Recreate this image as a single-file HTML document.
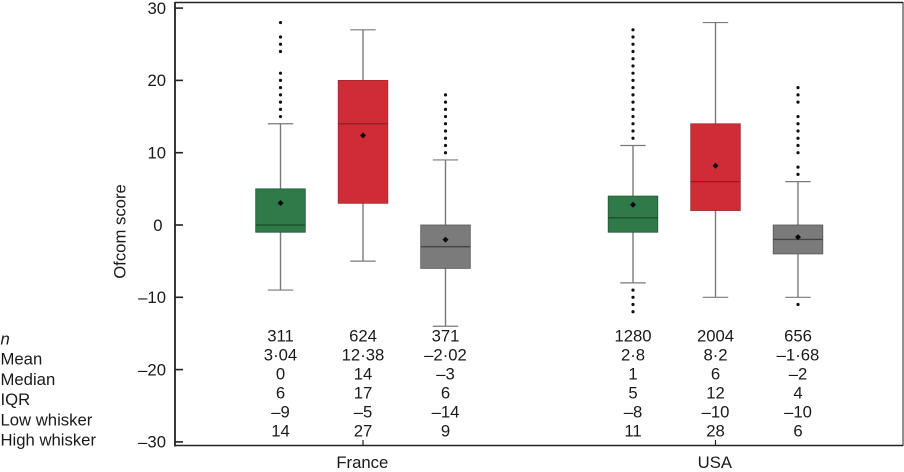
<!DOCTYPE html>
<html lang="en">
<head>
<meta charset="utf-8">
<title>Ofcom score box plot</title>
<style>
html,body{margin:0;padding:0;background:#fff;width:904px;height:472px;overflow:hidden}
svg{display:block;font-family:"Liberation Sans",Arial,sans-serif;fill:#1a1a1a}
text{font-size:16.7px}
</style>
</head>
<body>
<svg id="chart" width="904" height="472" viewBox="0 0 904 472" xmlns="http://www.w3.org/2000/svg"></svg>
<script>
const groupLabels = ['France', 'USA'];
const boxGroups = [0, 0, 0, 1, 1, 1];
const boxColors = ['green', 'red', 'gray', 'green', 'red', 'gray'];
const q1Values = [-1, 3, -6, -1, 2, -4];
const q3Values = [5, 20, 0, 4, 14, 0];
const medianValues = [0, 14, -3, 1, 6, -2];
const meanValues = [3.04, 12.38, -2.02, 2.8, 8.2, -1.68];
const lowWhiskers = [-9, -5, -14, -8, -10, -10];
const highWhiskers = [14, 27, 9, 11, 28, 6];
const outliers = [
  [28, 26, 25, 24, 21, 20, 19, 18, 17, 16, 15],
  [],
  [18, 17, 16, 15, 14, 13, 12, 11, 10],
  [27, 26, 25, 24, 23, 22, 21, 20, 19, 18, 17, 16, 15, 14, 13, 12, -9, -10, -11, -12],
  [],
  [19, 18, 17, 15, 14, 13, 12, 11, 10, 8, 7, -11]
];
const yTicks = [30, 20, 10, 0, -10, -20, -30];
const rowLabels = ['n', 'Mean', 'Median', 'IQR', 'Low whisker', 'High whisker'];
const nLabels = ['311', '624', '371', '1280', '2004', '656'];
const meanLabels = ['3·04', '12·38', '–2·02', '2·8', '8·2', '–1·68'];
const medianLabels = ['0', '14', '–3', '1', '6', '–2'];
const iqrLabels = ['6', '17', '6', '5', '12', '4'];
const lowLabels = ['–9', '–5', '–14', '–8', '–10', '–10'];
const highLabels = ['14', '27', '9', '11', '28', '6'];
const tableRows = [nLabels, meanLabels, medianLabels, iqrLabels, lowLabels, highLabels];

const svg = document.getElementById('chart');
const NS = 'http://www.w3.org/2000/svg';
const fills = {green: '#2f7a48', red: '#cf2c35', gray: '#7b7b7b'};
const strokes = {green: '#24563a', red: '#9c2a30', gray: '#555555'};
const medianStrokes = {green: '#1b4a2d', red: '#8c1f26', gray: '#444444'};
const frame = {left: 175, right: 903, top: 2.5, bottom: 445.5};

function yScale(v) { return 225 - v * 7.23; }
function xScale(i) { return boxGroups[i] === 0 ? 280.5 + (i % 3) * 82.5 : 633 + (i % 3) * 82.5; }
function groupCenter(g) { return xScale(g * 3 + 1); }

function make(tag, attrs, text) {
  const el = document.createElementNS(NS, tag);
  for (const k in attrs) el.setAttribute(k, attrs[k]);
  if (text !== undefined) el.textContent = text;
  svg.appendChild(el);
  return el;
}
function label(el, name) {
  
  
  return el;
}

label(make('rect', {x: frame.left, y: frame.top, width: frame.right - frame.left, height: frame.bottom - frame.top, fill: 'none', stroke: '#222', 'stroke-width': 1}), 'plot-frame');
label(make('line', {x1: frame.left, x2: frame.left, y1: frame.top - 0.5, y2: frame.bottom + 1, stroke: '#222', 'stroke-width': 1.8}), 'y-axis-line');
label(make('line', {x1: frame.left, x2: frame.right, y1: frame.bottom, y2: frame.bottom, stroke: '#222', 'stroke-width': 1.6}), 'x-axis-line');
label(make('line', {x1: frame.left, x2: frame.right, y1: frame.top, y2: frame.top, stroke: '#222', 'stroke-width': 1.4}), 'top-border');

yTicks.forEach(function (t) {
  const y = yScale(t);
  label(make('line', {x1: frame.left, x2: frame.left + 8, y1: y, y2: y, stroke: '#222', 'stroke-width': 1.6}), 'y-tick');
  label(make('text', {x: t === 0 ? 162.5 : 166, y: y + 5.8, 'text-anchor': 'end'}, t < 0 ? '–' + Math.abs(t) : String(t)), 'y-tick-label');
});

const yTitle = make('text', {x: 0, y: 0, 'text-anchor': 'middle', transform: 'translate(125.5 231.5) rotate(-90)'}, 'Ofcom score');
label(yTitle, 'y-axis-title');

groupLabels.forEach(function (g, i) {
  const x = groupCenter(i);
  label(make('line', {x1: x, x2: x, y1: frame.bottom, y2: frame.bottom - 5.5, stroke: '#222', 'stroke-width': 1.2}), 'x-tick');
  label(make('text', {x: x - 0.7, y: 468, 'text-anchor': 'middle'}, g), 'x-tick-label');
});

boxColors.forEach(function (c, i) {
  const x = xScale(i);
  const halfBox = 24.8, halfCap = 12.7;
  label(make('line', {x1: x, x2: x, y1: yScale(highWhiskers[i]), y2: yScale(q3Values[i]), stroke: '#7a7a7a', 'stroke-width': 1.4}), 'upper-whisker');
  label(make('line', {x1: x, x2: x, y1: yScale(q1Values[i]), y2: yScale(lowWhiskers[i]), stroke: '#7a7a7a', 'stroke-width': 1.4}), 'lower-whisker');
  label(make('line', {x1: x - halfCap, x2: x + halfCap, y1: yScale(highWhiskers[i]), y2: yScale(highWhiskers[i]), stroke: '#7a7a7a', 'stroke-width': 1.2}), 'upper-whisker-cap');
  label(make('line', {x1: x - halfCap, x2: x + halfCap, y1: yScale(lowWhiskers[i]), y2: yScale(lowWhiskers[i]), stroke: '#7a7a7a', 'stroke-width': 1.2}), 'lower-whisker-cap');
  label(make('rect', {x: x - halfBox, y: yScale(q3Values[i]), width: halfBox * 2, height: yScale(q1Values[i]) - yScale(q3Values[i]), fill: fills[c], stroke: strokes[c], 'stroke-width': 0.8}), 'box-' + c);
  label(make('line', {x1: x - halfBox, x2: x + halfBox, y1: yScale(medianValues[i]), y2: yScale(medianValues[i]), stroke: medianStrokes[c], 'stroke-width': 1.3}), 'median-line');
  const my = yScale(meanValues[i]);
  label(make('polygon', {points: (x - 3) + ',' + my + ' ' + x + ',' + (my - 3) + ' ' + (x + 3) + ',' + my + ' ' + x + ',' + (my + 3), fill: '#0a0a0a'}), 'mean-marker');
  outliers[i].forEach(function (v) {
    label(make('circle', {cx: x, cy: yScale(v), r: 1.6, fill: '#111'}), 'outlier-point');
  });
});

rowLabels.forEach(function (r, i) {
  const attrs = {x: 0.5, y: 344.5 + i * 20.2};
  if (r === 'n') attrs['font-style'] = 'italic';
  label(make('text', attrs, r), 'row-label-' + r.toLowerCase().replace(' ', '-'));
});

tableRows.forEach(function (row, r) {
  row.forEach(function (v, i) {
    label(make('text', {x: xScale(i), y: 341.3 + r * 19, 'text-anchor': 'middle'}, v), 'table-value');
  });
});
</script>
</body>
</html>
